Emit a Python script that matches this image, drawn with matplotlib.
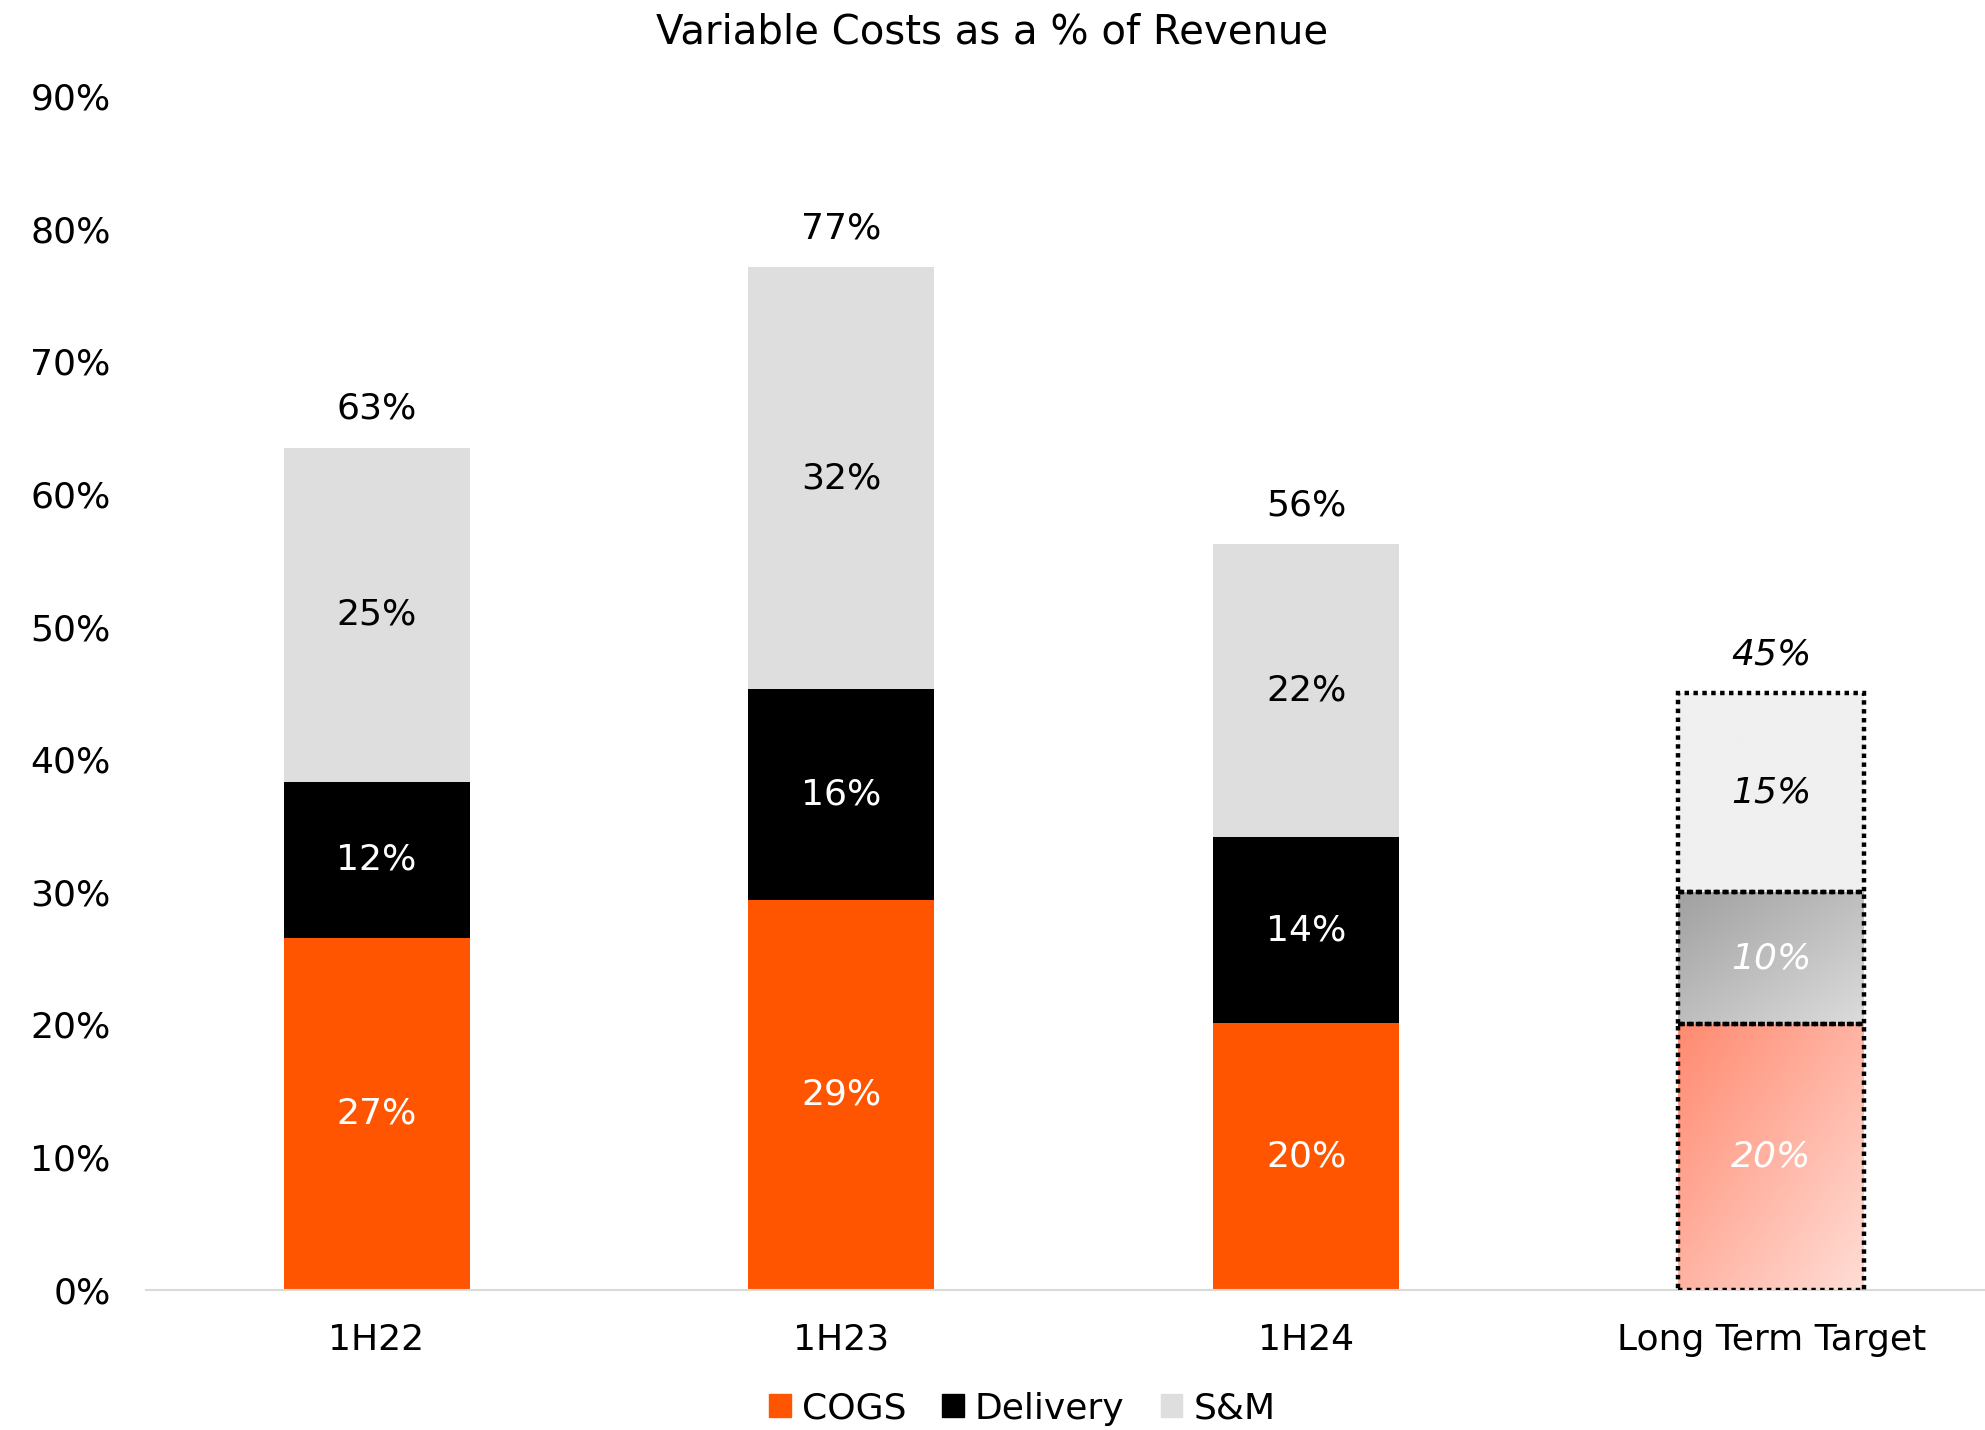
import numpy as np
import matplotlib.pyplot as plt
from matplotlib.colors import LinearSegmentedColormap
from matplotlib.patches import Patch

plt.rcParams['font.family'] = ['DejaVu Sans']

categories = ['1H22', '1H23', '1H24', 'Long Term Target']
cogs = [26.5, 29.4, 20.1, 20.0]
delivery = [11.8, 15.9, 14.0, 10.0]
sm = [25.2, 31.8, 22.1, 15.0]
cogs_labels = ['27%', '29%', '20%', '20%']
delivery_labels = ['12%', '16%', '14%', '10%']
sm_labels = ['25%', '32%', '22%', '15%']
total_labels = ['63%', '77%', '56%', '45%']
yticks = [0, 10, 20, 30, 40, 50, 60, 70, 80, 90]

ORANGE = '#FF5500'
BLACK = '#000000'
GREY = '#DEDEDE'

fig = plt.figure(figsize=(19.85, 14.30), dpi=100)
ax = fig.add_axes([0.0733, 0.0982, 0.9267, 0.8345])

x = np.arange(len(categories))
w = 0.4
n = len(categories) - 1  # last one is the target bar, drawn separately

ax.bar(x[:n], cogs[:n], w, color=ORANGE)
ax.bar(x[:n], delivery[:n], w, bottom=cogs[:n], color=BLACK)
ax.bar(x[:n], sm[:n], w, bottom=np.add(cogs[:n], delivery[:n]), color=GREY)

fs = 26
for i in range(n):
    ax.text(x[i], cogs[i] / 2, cogs_labels[i], ha='center', va='center', color='white', fontsize=fs)
    ax.text(x[i], cogs[i] + delivery[i] / 2, delivery_labels[i], ha='center', va='center', color='white', fontsize=fs)
    ax.text(x[i], cogs[i] + delivery[i] + sm[i] / 2, sm_labels[i], ha='center', va='center', color='black', fontsize=fs)

# target bar: gradient fills, dotted borders
t = n
grad_specs = [
    (0, cogs[t], ['#FF8A70', '#FFDDD6']),
    (cogs[t], delivery[t], ['#A0A0A0', '#DCDCDC']),
    (cogs[t] + delivery[t], sm[t], ['#F0F0F0', '#F0F0F0']),
]
gx, gy = np.meshgrid(np.linspace(0, 1, 200), np.linspace(0, 1, 200))
g = (gx + gy) / 2
for bottom, h, cols in grad_specs:
    bar = ax.bar(x[t], h, w, bottom=bottom, facecolor='none', edgecolor='black',
                 linestyle=(0, (1, 1)), linewidth=3.2, zorder=3)[0]
    cmap = LinearSegmentedColormap.from_list('g', cols)
    im = ax.imshow(g, cmap=cmap, origin='upper', aspect='auto', zorder=2,
                   extent=[bar.get_x(), bar.get_x() + bar.get_width(), bottom, bottom + h])
    im.set_clip_path(bar)

ax.text(x[t], cogs[t] / 2, cogs_labels[t], ha='center', va='center', color='white', fontsize=fs, style='italic', zorder=4)
ax.text(x[t], cogs[t] + delivery[t] / 2, delivery_labels[t], ha='center', va='center', color='white', fontsize=fs, style='italic', zorder=4)
ax.text(x[t], cogs[t] + delivery[t] + sm[t] / 2, sm_labels[t], ha='center', va='center', color='black', fontsize=fs, style='italic', zorder=4)

totals = np.add(np.add(cogs, delivery), sm)
for i in range(len(categories)):
    ax.annotate(total_labels[i], (x[i], totals[i]), xytext=(0, 28), textcoords='offset points',
                ha='center', va='center', fontsize=fs, style='italic' if i == t else 'normal')

ax.set_xlim(-0.497, 3.46)
ax.set_ylim(0, 90)
ax.set_yticks(yticks)
ax.set_yticklabels([f'{v}%' for v in yticks], fontsize=fs)
ax.set_xticks(x)
ax.set_xticklabels(categories, fontsize=fs)
ax.tick_params(length=0)
ax.tick_params(axis='y', pad=25)
ax.tick_params(axis='x', pad=24)
for s in ['top', 'right', 'left']:
    ax.spines[s].set_visible(False)
ax.spines['bottom'].set_color('#D9D9D9')
ax.spines['bottom'].set_linewidth(1.5)

fig.suptitle('Variable Costs as a % of Revenue', fontsize=29, y=0.977, va='center')

handles = [Patch(color=ORANGE), Patch(color=BLACK), Patch(color=GREY)]
fig.legend(handles, ['COGS', 'Delivery', 'S&M'], loc='center', bbox_to_anchor=(0.515, 0.015),
           ncol=3, frameon=False, fontsize=fs, handlelength=0.6, handleheight=0.6,
           handletextpad=0.3, columnspacing=1.0)

fig.savefig('out.png', dpi=100)
